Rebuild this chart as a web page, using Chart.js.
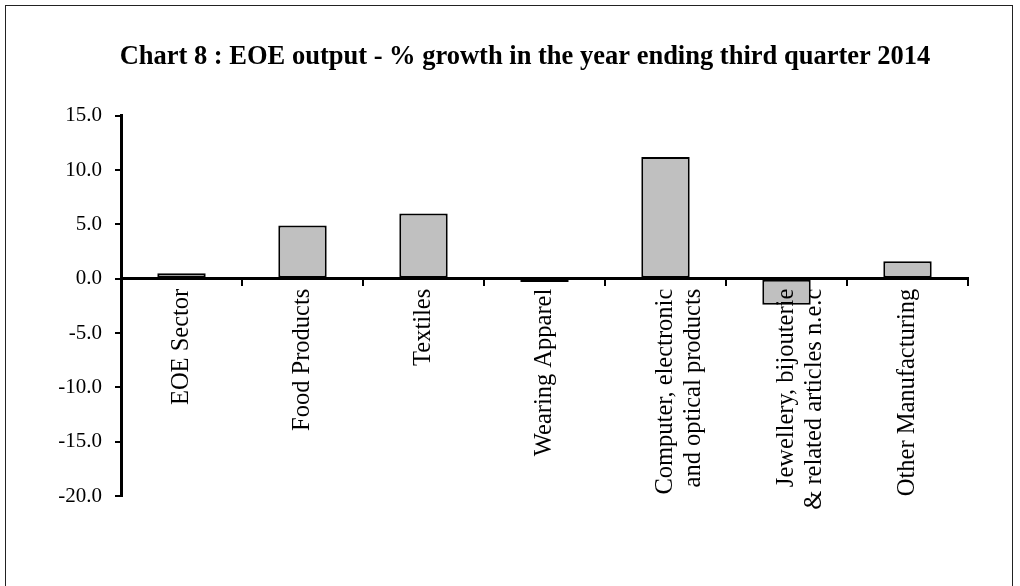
<!DOCTYPE html>
<html>
<head>
<meta charset="utf-8">
<script src="https://cdn.jsdelivr.net/npm/chart.js@4/dist/chart.umd.min.js"></script>
<style>
  html, body { margin: 0; padding: 0; background: #fff; }
  #wrap { position: relative; width: 1020px; height: 586px; overflow: hidden; }
  #frame { position: absolute; left: 5px; top: 5px; width: 1008px; height: 700px; border: 1.5px solid #222; box-sizing: border-box; }
  #chart { position: absolute; left: 0; top: 0; }
</style>
</head>
<body>
<div id="wrap">
  <div id="frame"></div>
  <canvas id="chart" width="1020" height="586"></canvas>
</div>
<script>
const categories = [
    "EOE Sector",
    "Food Products",
    "Textiles",
    "Wearing Apparel",
    ["Computer, electronic", "and optical products"],
    ["Jewellery, bijouterie", "& related articles n.e.c"],
    "Other Manufacturing"
];
const growth = [0.5, 4.9, 6.0, -0.3, 11.2, -2.4, 1.6];
const yTicks = [-20, -15, -10, -5, 0, 5, 10, 15];

// the title in the original sits a little right of the canvas centre
const nudgeTitle = {
    id: "nudgeTitle",
    afterLayout(chart) {
        if (chart.titleBlock) {
            chart.titleBlock.left += 13;
            chart.titleBlock.right += 13;
        }
    }
};

document.addEventListener("DOMContentLoaded", function () {
    new Chart(document.getElementById("chart"), {
        type: "bar",
        data: {
            labels: categories,
            datasets: [{
                data: growth,
                backgroundColor: "#c0c0c0",
                borderColor: "#000",
                borderWidth: 2,
                borderSkipped: false,
                barPercentage: 0.4,
                categoryPercentage: 1.0
            }]
        },
        options: {
            responsive: false,
            animation: false,
            layout: { padding: { left: 56, right: 52, top: 0, bottom: 90 } },
            plugins: {
                legend: { display: false },
                tooltip: { enabled: false },
                title: {
                    display: true,
                    text: "Chart 8 : EOE output - % growth in the year ending third quarter 2014",
                    color: "#000",
                    font: { family: "Liberation Serif", size: 26.5, weight: "bold", lineHeight: 1.2 },
                    padding: { top: 41, bottom: 43 }
                }
            },
            scales: {
                x: {
                    position: { y: 0 },
                    border: { display: true, color: "#000", width: 3, z: 1 },
                    grid: { display: true, drawOnChartArea: false, drawTicks: true, tickLength: 6, color: "#000", lineWidth: 2, offset: true, z: 1 },
                    ticks: {
                        z: 1,
                        autoSkip: false,
                        minRotation: 90,
                        maxRotation: 90,
                        padding: 4,
                        color: "#000",
                        font: { family: "Liberation Serif", size: 24.5, lineHeight: 1.15 }
                    }
                },
                y: {
                    min: -20,
                    max: 15,
                    afterFit: function (scale) { scale.width = 65; },
                    afterBuildTicks: function (scale) { scale.ticks = yTicks.map(v => ({ value: v })); },
                    border: { display: true, color: "#000", width: 3 },
                    grid: { display: true, drawOnChartArea: false, drawTicks: true, tickLength: 6, color: "#000", lineWidth: 2 },
                    ticks: {
                        padding: 13,
                        color: "#000",
                        font: { family: "Liberation Serif", size: 21 },
                        callback: v => v.toFixed(1)
                    }
                }
            }
        },
        plugins: [nudgeTitle]
    });
});
</script>
</body>
</html>
